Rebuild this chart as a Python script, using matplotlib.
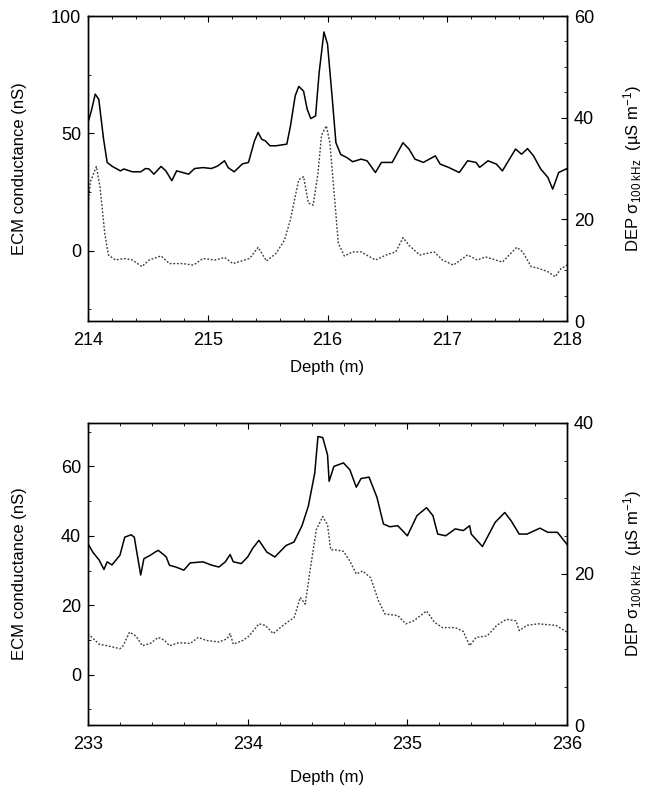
import numpy as np
import matplotlib
matplotlib.use("Agg")
import matplotlib.pyplot as plt
from matplotlib.ticker import MultipleLocator

plt.rcParams['font.family'] = ['Liberation Sans', 'DejaVu Sans']
plt.rcParams['mathtext.fontset'] = 'custom'
plt.rcParams['mathtext.rm'] = 'Liberation Sans'
plt.rcParams['mathtext.it'] = 'Liberation Sans:italic'
plt.rcParams['mathtext.bf'] = 'Liberation Sans:bold'

# --- upper panel (214-218 m) ---
ecm1_depth = [214.00, 214.03, 214.06, 214.09, 214.13, 214.16, 214.20, 214.27, 214.30, 214.37,
              214.44, 214.48, 214.51, 214.55, 214.61, 214.65, 214.70, 214.74, 214.79, 214.84,
              214.89, 214.96, 215.03, 215.08, 215.14, 215.17, 215.22, 215.29, 215.34, 215.39,
              215.42, 215.45, 215.48, 215.52, 215.57, 215.66, 215.69, 215.73, 215.76, 215.80,
              215.83, 215.86, 215.90, 215.93, 215.97, 216.00, 216.04, 216.07, 216.11, 216.16,
              216.21, 216.28, 216.33, 216.40, 216.45, 216.54, 216.63, 216.68, 216.73, 216.80,
              216.90, 216.94, 217.01, 217.10, 217.17, 217.24, 217.27, 217.34, 217.41, 217.46,
              217.57, 217.62, 217.67, 217.72, 217.78, 217.84, 217.88, 217.93, 218.00]
ecm1 = [54.6, 60.0, 66.7, 64.5, 47.5, 37.6, 36.0, 34.0, 34.8, 33.6,
        33.6, 35.0, 34.8, 32.6, 35.9, 34.0, 29.8, 34.0, 33.3, 32.6,
        35.0, 35.4, 35.0, 36.0, 38.3, 35.4, 33.6, 37.0, 37.6, 46.8,
        50.4, 47.5, 46.8, 44.7, 44.7, 45.4, 53.0, 66.0, 70.0, 68.0,
        60.3, 56.3, 57.4, 75.9, 93.2, 88.0, 64.5, 46.0, 41.0, 39.7,
        37.9, 39.0, 38.3, 33.3, 37.6, 37.6, 46.0, 43.3, 39.0, 37.6,
        40.4, 36.9, 35.5, 33.3, 38.3, 37.6, 35.5, 38.3, 36.9, 34.0,
        43.3, 41.1, 43.5, 40.4, 34.8, 31.2, 26.2, 33.3, 35.0]

dep1_depth = [214.00, 214.02, 214.07, 214.10, 214.14, 214.17, 214.23, 214.30, 214.37, 214.45,
              214.51, 214.61, 214.68, 214.79, 214.88, 214.96, 215.06, 215.14, 215.21, 215.35,
              215.42, 215.49, 215.57, 215.64, 215.69, 215.73, 215.76, 215.80, 215.84, 215.88,
              215.92, 215.95, 215.99, 216.02, 216.06, 216.09, 216.14, 216.21, 216.28, 216.40,
              216.49, 216.57, 216.63, 216.68, 216.77, 216.89, 216.96, 217.05, 217.17, 217.25,
              217.32, 217.46, 217.58, 217.63, 217.70, 217.77, 217.84, 217.90, 217.95, 218.00]
dep1 = [22.5, 27.4, 30.4, 26.4, 17.2, 13.0, 12.0, 12.3, 12.0, 10.7,
        12.0, 12.8, 11.3, 11.3, 11.0, 12.3, 12.0, 12.5, 11.3, 12.3,
        14.5, 11.8, 13.3, 15.9, 19.9, 24.5, 27.8, 28.4, 23.2, 22.8,
        29.0, 36.6, 38.4, 35.0, 23.8, 15.3, 12.8, 13.6, 13.6, 12.0,
        13.0, 13.6, 16.4, 14.9, 13.0, 13.6, 12.0, 11.0, 13.0, 12.0,
        12.6, 11.6, 14.5, 13.6, 10.7, 10.3, 9.7, 8.7, 10.3, 11.0]

# --- lower panel (233-236 m) ---
ecm2_depth = [233.00, 233.03, 233.07, 233.10, 233.12, 233.15, 233.20, 233.23, 233.27, 233.29,
              233.30, 233.33, 233.35, 233.39, 233.42, 233.44, 233.47, 233.49, 233.51, 233.55,
              233.60, 233.64, 233.72, 233.77, 233.82, 233.86, 233.89, 233.91, 233.96, 234.00,
              234.03, 234.07, 234.12, 234.17, 234.24, 234.29, 234.34, 234.38, 234.42, 234.44,
              234.47, 234.50, 234.51, 234.54, 234.57, 234.60, 234.64, 234.68, 234.71, 234.76,
              234.81, 234.85, 234.89, 234.94, 235.00, 235.06, 235.12, 235.16, 235.19, 235.24,
              235.30, 235.35, 235.39, 235.40, 235.47, 235.55, 235.61, 235.65, 235.70, 235.75,
              235.83, 235.88, 235.94, 236.00]
ecm2 = [37.7, 35.3, 33.0, 30.3, 32.5, 31.6, 34.4, 39.6, 40.3, 39.6,
        36.8, 28.7, 33.4, 34.4, 35.3, 35.8, 34.7, 33.9, 31.5, 31.0,
        30.1, 32.2, 32.5, 31.6, 31.0, 32.5, 34.6, 32.5, 32.0, 33.9,
        36.3, 38.7, 35.3, 33.9, 37.2, 38.2, 42.9, 48.6, 58.1, 68.6,
        68.3, 63.3, 55.7, 60.0, 60.5, 61.0, 59.0, 54.0, 56.5, 56.9,
        51.0, 43.4, 42.6, 42.9, 40.0, 45.8, 48.1, 45.8, 40.5, 40.0,
        42.0, 41.5, 42.9, 40.5, 36.9, 43.9, 46.7, 44.3, 40.5, 40.5,
        42.2, 41.0, 41.0, 37.5]

dep2_depth = [233.00, 233.07, 233.12, 233.20, 233.22, 233.26, 233.30, 233.34, 233.39, 233.44,
              233.48, 233.51, 233.57, 233.64, 233.69, 233.74, 233.82, 233.87, 233.89, 233.91,
              233.97, 234.01, 234.07, 234.11, 234.16, 234.21, 234.26, 234.29, 234.33, 234.36,
              234.39, 234.43, 234.47, 234.50, 234.52, 234.55, 234.60, 234.64, 234.68, 234.72,
              234.77, 234.82, 234.86, 234.94, 234.99, 235.04, 235.12, 235.17, 235.22, 235.30,
              235.35, 235.39, 235.43, 235.50, 235.56, 235.62, 235.68, 235.70, 235.75, 235.82,
              235.87, 235.93, 236.00]
dep2 = [12.1, 10.7, 10.5, 10.1, 10.5, 12.3, 11.8, 10.5, 10.8, 11.6,
        11.2, 10.5, 10.9, 10.8, 11.6, 11.2, 11.0, 11.4, 12.1, 10.7,
        11.2, 11.8, 13.4, 13.2, 12.1, 13.0, 13.8, 14.2, 16.9, 16.0,
        20.4, 25.9, 27.6, 26.5, 23.2, 23.2, 23.0, 21.7, 20.0, 20.4,
        19.5, 16.4, 14.7, 14.5, 13.4, 13.8, 15.1, 13.6, 12.9, 12.9,
        12.4, 10.5, 11.6, 11.8, 13.2, 14.0, 13.8, 12.5, 13.2, 13.4,
        13.3, 13.2, 12.3]

panels = [
    dict(ecm_x=ecm1_depth, ecm=ecm1, dep_x=dep1_depth, dep=dep1,
         xlim=(214, 218), ylim=(-30, 100), yticks=[0, 50, 100], yminor=25,
         y2lim=(0, 60), y2ticks=[0, 20, 40, 60],
         rect=[0.1354, 0.5957, 0.7370, 0.3841]),
    dict(ecm_x=ecm2_depth, ecm=ecm2, dep_x=dep2_depth, dep=dep2,
         xlim=(233, 236), ylim=(-14.5, 72.5), yticks=[0, 20, 40, 60], yminor=10,
         y2lim=(0, 40), y2ticks=[0, 20, 40],
         rect=[0.1354, 0.0869, 0.7370, 0.3804]),
]

fig = plt.figure(figsize=(6.5, 7.94), dpi=100)

for i, p in enumerate(panels):
    ax = fig.add_axes(p['rect'])
    ax2 = ax.twinx()
    ax.plot(p['ecm_x'], p['ecm'], color='black', lw=1.1)
    ax2.plot(p['dep_x'], p['dep'], color='#3a3a3a', lw=1.0, ls=(0, (1.3, 1.3)))

    ax.set_xlim(*p['xlim'])
    ax.set_ylim(*p['ylim'])
    ax.set_yticks(p['yticks'])
    ax.xaxis.set_major_locator(MultipleLocator(1))
    ax.xaxis.set_minor_locator(MultipleLocator(0.2))
    ax.yaxis.set_minor_locator(MultipleLocator(p['yminor']))
    ax2.set_ylim(*p['y2lim'])
    ax2.set_yticks(p['y2ticks'])
    ax2.yaxis.set_minor_locator(MultipleLocator(5))

    ax.tick_params(which='both', direction='in', top=True, labelsize=13, pad=5)
    ax.tick_params(axis='x', which='major', pad=8)
    ax.tick_params(which='major', length=4)
    ax.tick_params(which='minor', length=2.5)
    ax2.tick_params(which='both', direction='in', labelsize=13, pad=5)
    ax2.tick_params(which='major', length=4)
    ax2.tick_params(which='minor', length=2.5)
    for a in (ax, ax2):
        for s in a.spines.values():
            s.set_linewidth(1.0)

    ax.set_xlabel('Depth (m)', fontsize=12, labelpad=8 if i == 0 else 12)
    ax.set_ylabel('ECM conductance (nS)', fontsize=12)
    ax.yaxis.set_label_coords(-0.128, 0.5)
    ax2.set_ylabel(r'DEP σ$_{100\ \mathrm{kHz}}$  (µS m$^{-1}$)', fontsize=12)
    ax2.yaxis.set_label_coords(1.113, 0.5)

fig.savefig('out.png', dpi=100)
